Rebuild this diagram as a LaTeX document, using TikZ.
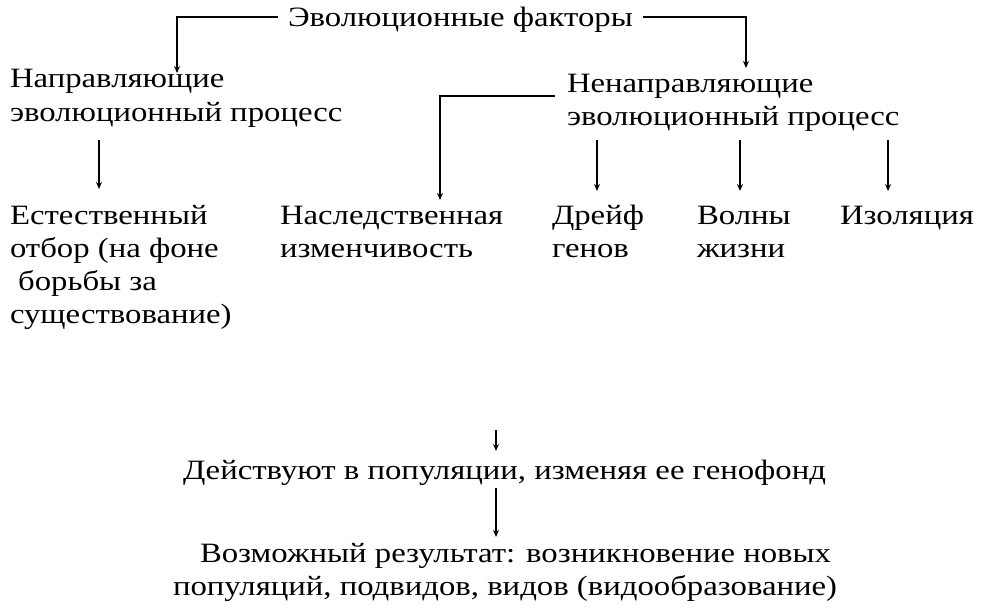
\documentclass[tikz,border=0pt]{standalone}
\usepackage{fontspec}
\setmainfont{Liberation Serif}[FakeStretch=1.17]
\usetikzlibrary{arrows.meta}
\begin{document}
\begin{tikzpicture}[x=1pt,y=1pt,
  lbl/.style={inner sep=0pt, outer sep=0pt, align=left, anchor=base west, font=\fontsize{28}{33}\selectfont},
  conn/.style={line width=1.8pt, -{Stealth[length=7pt,width=6pt]}}]
\useasboundingbox (0,0) rectangle (982,-610);
\node[lbl] (top) at (288,-27) {Эволюционные факторы};
\node[lbl] (dir) at (10,-121) {Направляющие\\эволюционный процесс};
\node[lbl] (ndir) at (567,-125) {Ненаправляющие\\эволюционный процесс};
\node[lbl] (nat) at (10,-323) {Естественный\\отбор (на фоне\\\ борьбы за\\существование)};
\node[lbl] (her) at (280,-257) {Наследственная\\изменчивость};
\node[lbl] (drift) at (552,-257) {Дрейф\\генов};
\node[lbl] (wave) at (697,-257) {Волны\\жизни};
\node[lbl] (iso) at (840,-224) {Изоляция};
\node[lbl] (act) at (183,-479) {Действуют в популяции, изменяя ее генофонд};
\node[lbl] (res) at (200,-595) {Возможный результат: возникновение новых\\\hspace*{-27pt}популяций, подвидов, видов (видообразование)};
\coordinate (tl) at (177,-17);
\coordinate (tr) at (746,-17);
\coordinate (nl) at (440,-96);
\draw[conn] (top.west |- tl) ++(-10,0) -- (tl) -- (177,-73);
\draw[conn] (top.east |- tr) ++(10,0) -- (tr) -- (746,-68);
\draw[conn] (ndir.west |- nl) ++(-12,0) -- (nl) -- (440,-200);
\draw[conn] (99,-140) -- (99,-189);
\draw[conn] (597,-140) -- (597,-191);
\draw[conn] (740,-140) -- (740,-191);
\draw[conn] (888,-140) -- (888,-191);
\draw[conn] (496,-430) -- (496,-451);
\draw[conn] (496,-488) -- (496,-537);
\end{tikzpicture}
\end{document}
